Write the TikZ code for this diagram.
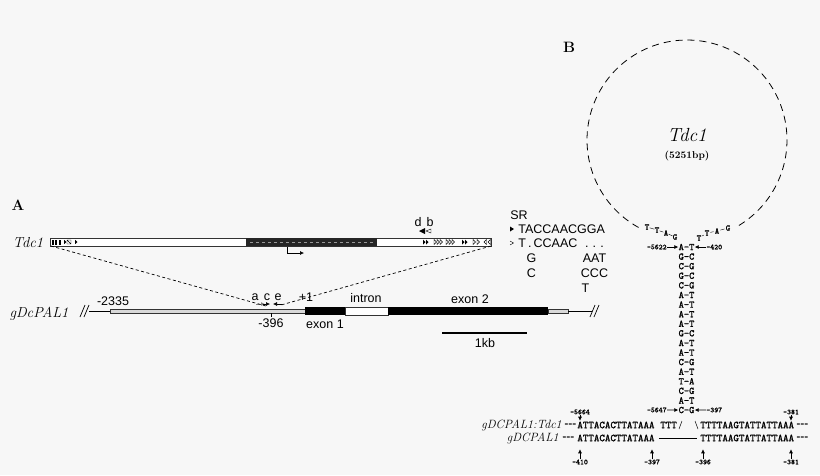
\documentclass[tikz,border=0pt]{standalone}
\usepackage{fontspec}
\newfontfamily\sansfont{Liberation Sans}
\newfontfamily\seqfont{lmmono10-regular.otf}[FakeBold=1.5]
\usetikzlibrary{arrows.meta,calc}

\begin{document}
\begin{tikzpicture}
  [
    x=1pt, y=-1pt, line width=.7pt,
    every node/.style={inner sep=0pt, text=black},
    panel/.style={font=\fontsize{15}{17}\selectfont\bfseries},
    gen/.style={font=\fontsize{14.5}{16}\selectfont\itshape},
    lbl/.style={font=\fontsize{12.5}{14}\selectfont\sansfont},
    num/.style={font=\fontsize{7.5}{8}\selectfont\seqfont},
    base/.style={font=\fontsize{8.5}{9}\selectfont\seqfont},
    pair/.style={font=\fontsize{10}{11}\selectfont\seqfont},
    nt/.style={font=\fontsize{10.5}{11}\selectfont\seqfont, anchor=west},
    gap/.style={font=\fontsize{7.5}{8}\selectfont\seqfont, anchor=west},
    bar/.style={draw=black!80, line width=.6pt},
    arr/.style={-{Latex[length=4pt,width=4pt]}, line width=.6pt}
  ]

  % Hintergrund
  \fill[black!3] (0,0) rectangle (820,475);
  \useasboundingbox (0,0) rectangle (820,475);

  % ---------- A ----------
  \node[panel] (A) at (18,205) {A};
  \node[gen] (tdcA) at (28,243) {Tdc1};
  \node[gen] (gdcA) at (39,314) {gDcPAL1};

  % Tdc1
  \draw[bar, fill=white] (50,238) rectangle (491,246);
  \fill[black!85] (246,238) rectangle (377,246);
  \draw[black!40, dashed, line width=.3pt] (250,242) -- (375,242);
  \foreach \x in {53,56,60}
    \fill (\x-1.1,239.5) rectangle (\x+1.1,244.5);
  \foreach \x in {64,75}
    \fill (\x,239.8) -- (\x+2.5,242) -- (\x,244.2) -- cycle;
  \draw[line width=.4pt] (67,240) rectangle (71,244) (67,240) -- (71,244);
  \foreach \x in {423,426,462,465}
    \fill (\x,239.5) -- (\x+2.5,242) -- (\x,244.5) -- cycle;
  \foreach \x in {434,437,440,446,449,452,473,477}
    \draw[line width=.4pt] (\x,239.5) -- (\x+2.5,242) -- (\x,244.5) -- cycle;
  \foreach \x in {484,488}
    \draw[line width=.4pt] (\x+2.5,239.5) -- (\x,242) -- (\x+2.5,244.5) -- cycle;
  \draw[arr] (287,247) |- (304,253);
  \node[lbl] (d) at (418,222) {d};
  \node[lbl] (b) at (430,222) {b};
  \fill (419,231) -- (425,228) -- (425,234) -- cycle;
  \draw[line width=.4pt] (426,231) -- (431,229) -- (431,233) -- cycle;
  \coordinate (tdcL) at (51,246);
  \coordinate (tdcR) at (491,246);

  % gDcPAL1
  \draw (80,317) -- (85,305) (84,317) -- (89,305);
  \draw (89,311) -- (110,311);
  \draw[bar, fill=black!15, line width=.5pt] (110,309) rectangle (305,313);
  \fill (305,307) rectangle (345,315);
  \draw[bar, fill=white] (345,307) rectangle (388,315);
  \fill (388,307) rectangle (548,315);
  \draw[bar, fill=black!15, line width=.5pt] (548,309) rectangle (568,313);
  \draw (568,311) -- (592,311);
  \draw (590,317) -- (595,305) (594,317) -- (599,305);
  \draw[line width=.5pt] (271,313) -- (271,317);

  \node[lbl] (m2335) at (113,301) {-2335};
  \node[lbl] (a) at (255,297) {a};
  \node[lbl] (c) at (267,297) {c};
  \node[lbl] (e) at (278,297) {e};
  \draw[arr, black!50, line width=1pt] (256,304) -- (265,304);
  \draw[arr] (263,304) -- (270,304);
  \draw[arr] (282,304) -- (273,304);
  \node[lbl] (p1) at (306,297) {+1};
  \node[lbl] (m396) at (271,323) {-396};
  \node[lbl] (ex1) at (325,324) {exon 1};
  \node[lbl] (intr) at (366,298) {intron};
  \node[lbl] (ex2) at (470,299) {exon 2};
  \coordinate (insL) at (266,306);
  \coordinate (insR) at (281,305);
  \draw[dash pattern=on 3pt off 2.5pt] (tdcL) -- (insL);
  \draw[dash pattern=on 3pt off 2.5pt] (tdcR) -- (insR);

  % Massstab
  \draw[line width=1.2pt] (442,333) -- (527,333);
  \node[lbl] (kb) at (485,343) {1kb};

  % SR
  \node[lbl, anchor=base west] (sr) at (510,219.5) {SR};
  \fill (510,226.5) -- (514,229) -- (510,231.5) -- cycle;
  \draw[line width=.4pt] (510,241) -- (513.5,243) -- (510,245);
  \node[lbl, anchor=base west] (sr1) at (518,233.5) {TACCAACGGA};
  \node[lbl, anchor=base west] (sr2) at (518,247.5) {T\,.\,CCAAC\,\, .\,\,.\,\,.};
  \node[lbl, anchor=base] (sr3a) at (531.5,262.5) {G};
  \node[lbl, anchor=base] (sr3b) at (594.5,262.5) {AAT};
  \node[lbl, anchor=base] (sr4a) at (531.5,277.5) {C};
  \node[lbl, anchor=base] (sr4b) at (594.5,277.5) {CCC};
  \node[lbl, anchor=base] (sr5) at (585.5,292.5) {T};

  % ---------- B ----------
  \node[panel] (B) at (569,47) {B};
  \draw[dash pattern=on 7pt off 5pt, line width=.8pt]
    plot[domain=119:420, samples=120] ({687+100*cos(\x)}, {140+100*sin(\x)});
  \node[gen, font=\fontsize{19}{21}\selectfont\itshape] (tdcB) at (687,135) {Tdc1};
  \node[font=\fontsize{10}{12}\selectfont\bfseries] (bp) at (687,156) {(5251bp)};

  % Schleife
  \foreach \c/\x/\y [count=\i] in {T/647/227, T/657/230, A/666/233, G/675/237}
    \node[base] (ll\i) at (\x,\y) {\c};
  \foreach \c/\x/\y [count=\i] in {T/699/238, T/707/233, A/717/231, G/728/228}
    \node[base] (lr\i) at (\x,\y) {\c};
  \foreach \i/\j in {1/2,2/3,3/4}
    \draw[line width=.4pt, shorten <=.8pt, shorten >=.8pt] (ll\i) -- (ll\j) (lr\i) -- (lr\j);

  % Stamm
  \foreach \p [count=\i] in {A-T,G-C,C-G,G-C,C-G,A-T,A-T,A-T,A-T,G-C,A-T,A-T,C-G,A-T,T-A,C-G,A-T,C-G}
    \node[pair] (s\i) at (686.5,237.41+9.59*\i) {\p};
  \node[num, anchor=east] (p5622) at (667,247) {-5622};
  \node[num, anchor=west] (p420) at (706,247) {-420};
  \node[num, anchor=east] (p5647) at (667,410) {-5647};
  \node[num, anchor=west] (p397) at (706,410) {-397};
  \draw[arr] (p5622) -- (s1);
  \draw[arr] (p420) -- (s1);
  \draw[arr] (p5647) -- (s18);
  \draw[arr] (p397) -- (s18);
  \draw[line width=.5pt] (679,429) -- (682,421);
  \draw[line width=.5pt] (695,421) -- (698,429);

  % Sequenzen
  \node[gen, font=\fontsize{12}{13}\selectfont\itshape, anchor=east] (fus) at (562,425) {gDCPAL1:Tdc1};
  \node[gap] (fd1) at (564,425) {-{}-{}-};
  \node[nt] (f1) at (577,425) {ATTACACTTATAAA};
  \node[nt] (f2) at (660,425) {TTT};
  \node[nt] (f3) at (700,425) {TTTTAAGTATTATTAAA};
  \node[gap] (fd2) at (796,425) {-{}-{}-};

  \node[gen, font=\fontsize{12}{13}\selectfont\itshape, anchor=east] (wt) at (559,438) {gDCPAL1};
  \node[gap] (wd1) at (562,438) {-{}-{}-};
  \node[nt] (w1) at (577,438) {ATTACACTTATAAA};
  \node[nt] (w2) at (700,438) {TTTTAAGTATTATTAAA};
  \node[gap] (wd2) at (796,438) {-{}-{}-};
  \draw[shorten <=4pt, shorten >=3pt] (w1) -- (w2);

  \node[num] (t5664) at (580,412) {-5664};
  \node[num] (t381) at (791,412) {-381};
  \draw[arr] (t5664.south) -- ++(0,6);
  \draw[arr] (t381.south) -- ++(0,6);
  \foreach \x/\t [count=\i] in {580/-410, 652/-397, 703/-396, 791/-381} {
    \node[num] (u\i) at (\x,462) {\t};
    \draw[arr] (u\i.north) -- ++(0,-10);
  }
\end{tikzpicture}
\end{document}
